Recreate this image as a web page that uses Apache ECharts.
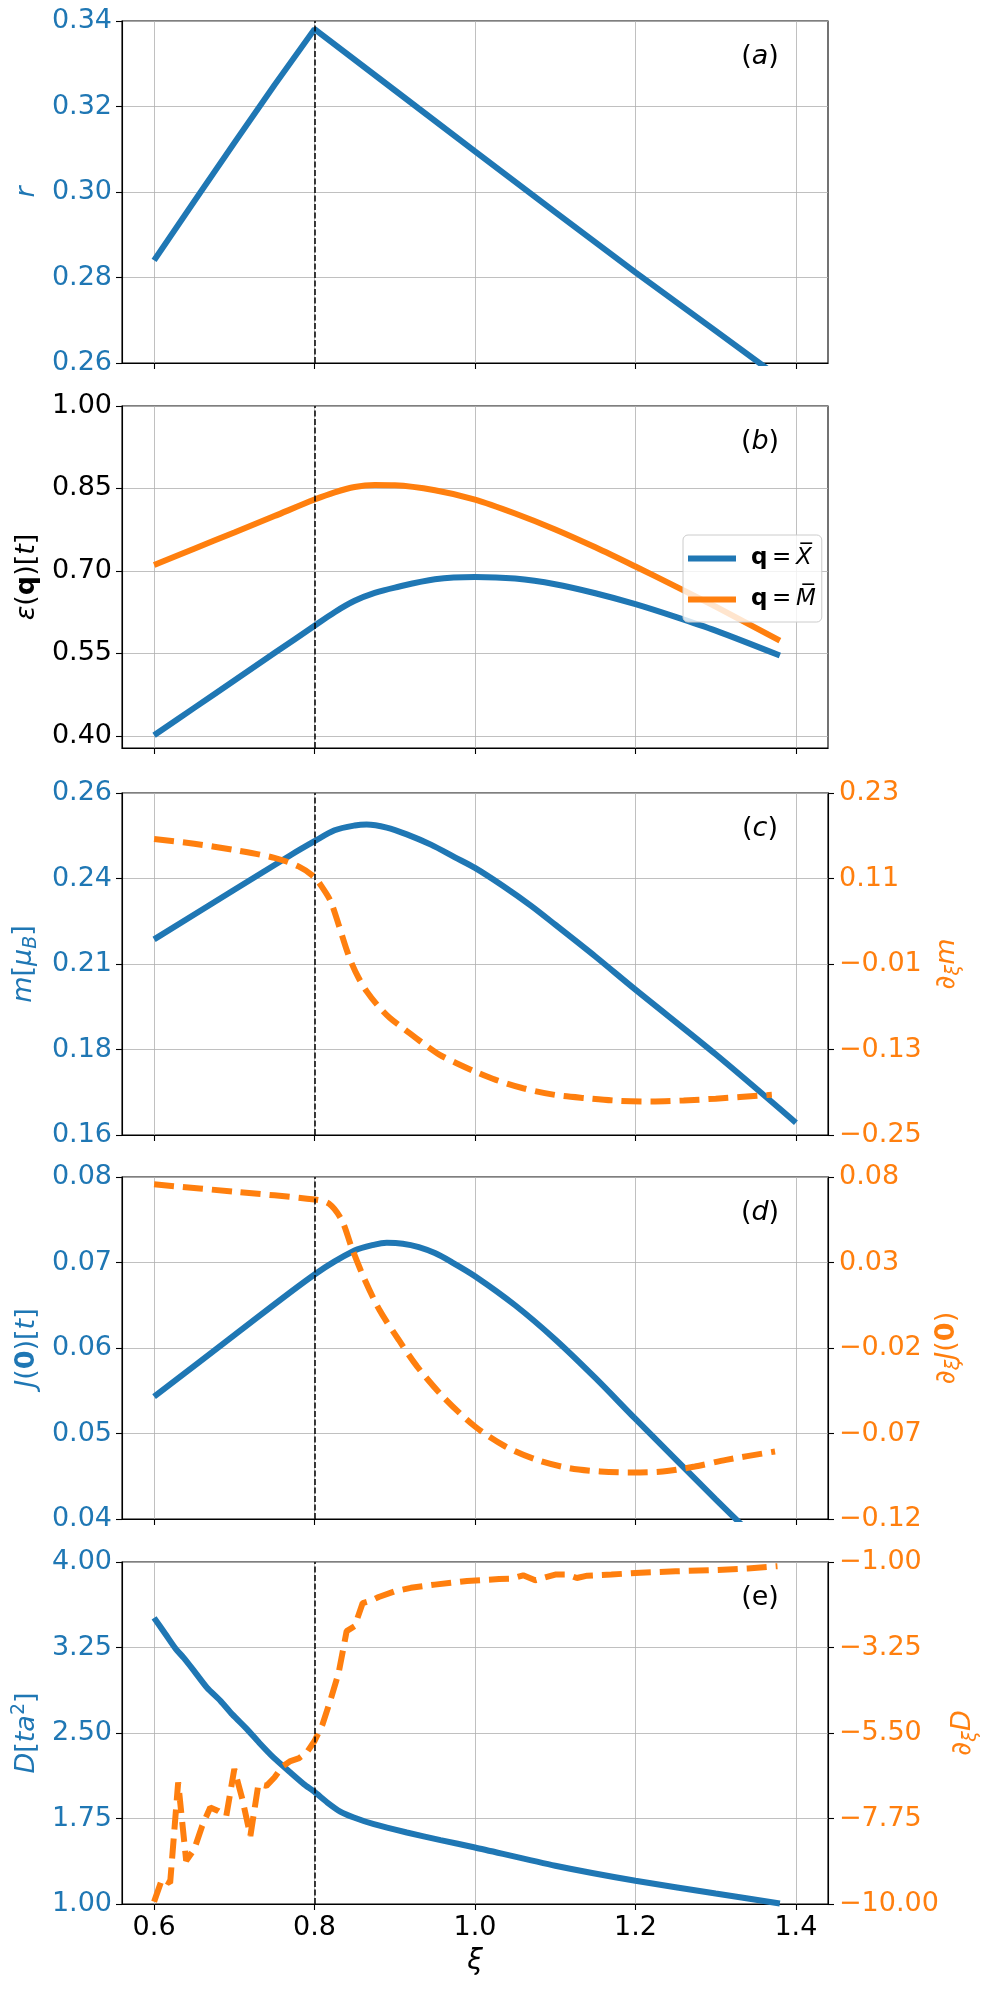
<!DOCTYPE html>
<html lang="en">
<head>
    <meta charset="UTF-8">
    <title>xi panels</title>
    <style>
        * {
            margin: 0;
            padding: 0;
        }

        body {
            background: #fff;
        }

        .main {
            width: 990px;
            height: 1990px;
        }
    </style>
</head>
<body>
<div id="main" class="main"></div>
<script src="https://cdn.jsdelivr.net/npm/echarts@6.0.0/dist/echarts.min.js"></script>
<script>
    // ---- data ----
    var xTicks = [0.6, 0.8, 1.0, 1.2, 1.4];
    var xTickLabels = ['0.6', '0.8', '1.0', '1.2', '1.4'];

    // (a) r
    var xiA = [0.6, 0.65, 0.7, 0.75, 0.8, 0.9, 1.0, 1.1, 1.2, 1.3, 1.38];
    var rA = [0.2840, 0.2978, 0.3115, 0.3250, 0.3381, 0.3238, 0.3095, 0.2953, 0.2812, 0.2675, 0.2565];
    var aTicks = [0.26, 0.28, 0.30, 0.32, 0.34];
    var aTickLabels = ['0.26', '0.28', '0.30', '0.32', '0.34'];

    // (b) eps(q)
    var xiB = [0.6, 0.65, 0.7, 0.75, 0.8, 0.825, 0.85, 0.875, 0.9, 0.95, 1.0, 1.05, 1.1, 1.15, 1.2, 1.25, 1.3, 1.38];
    var epsX = [0.4012, 0.4510, 0.5008, 0.5506, 0.6004, 0.6250, 0.6457, 0.6600, 0.6698, 0.6849, 0.6891, 0.6861, 0.6759, 0.6595, 0.6397, 0.6165, 0.5914, 0.5461];
    var epsM = [0.7109, 0.7405, 0.7700, 0.7998, 0.8298, 0.8430, 0.8527, 0.8562, 0.8557, 0.8467, 0.8298, 0.8045, 0.7755, 0.7430, 0.7080, 0.6720, 0.6350, 0.5733];
    var bTicks = [0.40, 0.55, 0.70, 0.85, 1.00];
    var bTickLabels = ['0.40', '0.55', '0.70', '0.85', '1.00'];

    // (c) m and d_xi m
    var xiC = [0.6, 0.7, 0.77, 0.8, 0.825, 0.85, 0.865, 0.89, 0.915, 0.945, 0.975, 1.0, 1.035, 1.07, 1.1, 1.15, 1.2, 1.3, 1.4];
    var mC = [0.2172, 0.2317, 0.2418, 0.2459, 0.2491, 0.2505, 0.2508, 0.2499, 0.2479, 0.2449, 0.2412, 0.2381, 0.2328, 0.2270, 0.2215, 0.2122, 0.2025, 0.1836, 0.1636];
    var xiCd = [0.6, 0.65, 0.7, 0.75, 0.78, 0.8, 0.81, 0.82, 0.83, 0.84, 0.847, 0.855, 0.865, 0.878, 0.894, 0.913, 0.935, 0.956, 0.977, 1.0, 1.026, 1.06, 1.1, 1.14, 1.18, 1.22, 1.26, 1.3, 1.37];
    var dmC = [0.1653, 0.1588, 0.1500, 0.1390, 0.1270, 0.1119, 0.0969, 0.0781, 0.0453, 0.0100, -0.0109, -0.0297, -0.0484, -0.0672, -0.0859, -0.1023, -0.1211, -0.1375, -0.1492, -0.1609, -0.1727, -0.1844, -0.1938, -0.1984, -0.2020, -0.2030, -0.2015, -0.1990, -0.1935];
    var cTicks = [0.16, 0.185, 0.21, 0.235, 0.26];
    var cTickLabels = ['0.16', '0.18', '0.21', '0.24', '0.26'];
    var cTicksR = [-0.25, -0.13, -0.01, 0.11, 0.23];
    var cTickLabelsR = ['\u22120.25', '\u22120.13', '\u22120.01', '0.11', '0.23'];

    // (d) J(0) and d_xi J(0)
    var xiD = [0.6, 0.7, 0.8, 0.85, 0.875, 0.89, 0.91, 0.93, 0.95, 0.97, 1.0, 1.05, 1.1, 1.15, 1.2, 1.3, 1.38];
    var JD = [0.0543, 0.0615, 0.0686, 0.0714, 0.0721, 0.0723, 0.0722, 0.0718, 0.0711, 0.0701, 0.0684, 0.0650, 0.0610, 0.0565, 0.0517, 0.0423, 0.0350];
    var xiDd = [0.6, 0.7, 0.8, 0.818, 0.834, 0.846, 0.861, 0.881, 0.905, 0.928, 0.96, 1.0, 1.038, 1.077, 1.117, 1.156, 1.195, 1.234, 1.274, 1.313, 1.374];
    var dJD = [0.0757, 0.0714, 0.0668, 0.0644, 0.0547, 0.0391, 0.0216, 0.0022, -0.0153, -0.0309, -0.0484, -0.0659, -0.0776, -0.0854, -0.0902, -0.0922, -0.0928, -0.0922, -0.0893, -0.0854, -0.0805];
    var dTicks = [0.04, 0.05, 0.06, 0.07, 0.08];
    var dTickLabels = ['0.04', '0.05', '0.06', '0.07', '0.08'];
    var dTicksR = [-0.12, -0.07, -0.02, 0.03, 0.08];
    var dTickLabelsR = ['\u22120.12', '\u22120.07', '\u22120.02', '0.03', '0.08'];

    // (e) D and d_xi D
    var xiE = [0.6, 0.6145, 0.627, 0.637, 0.65, 0.666, 0.683, 0.6975, 0.716, 0.731, 0.749, 0.77, 0.787, 0.8, 0.816, 0.832, 0.849, 0.874, 0.915, 0.957, 1.0, 1.1, 1.2, 1.3, 1.38];
    var DE = [3.510, 3.364, 3.238, 3.159, 3.043, 2.897, 2.780, 2.663, 2.532, 2.415, 2.284, 2.153, 2.050, 1.983, 1.890, 1.811, 1.759, 1.700, 1.627, 1.560, 1.496, 1.336, 1.204, 1.092, 1.005];
    var xiEd = [0.60, 0.61, 0.62, 0.63, 0.64, 0.65, 0.66, 0.67, 0.68, 0.69, 0.70, 0.71, 0.72, 0.73, 0.74, 0.75, 0.76, 0.77, 0.78, 0.79, 0.80, 0.81, 0.82, 0.83, 0.84, 0.85, 0.86, 0.87, 0.88, 0.90, 0.92, 0.95, 0.99, 1.03, 1.045, 1.06, 1.075, 1.10, 1.115, 1.127, 1.14, 1.17, 1.20, 1.25, 1.30, 1.34, 1.377];
    var dDE = [-9.94, -9.34, -9.45, -6.80, -8.86, -8.56, -7.94, -7.46, -7.55, -7.68, -6.45, -7.24, -8.21, -6.85, -6.89, -6.67, -6.38, -6.24, -6.17, -6.02, -5.71, -5.27, -4.62, -3.92, -2.82, -2.69, -2.08, -2.02, -1.92, -1.77, -1.68, -1.595, -1.50, -1.45, -1.44, -1.35, -1.48, -1.33, -1.33, -1.42, -1.36, -1.33, -1.29, -1.244, -1.21, -1.17, -1.11];
    var eTicks = [1.00, 1.75, 2.50, 3.25, 4.00];
    var eTickLabels = ['1.00', '1.75', '2.50', '3.25', '4.00'];
    var eTicksR = [-10.00, -7.75, -5.50, -3.25, -1.00];
    var eTickLabelsR = ['\u221210.00', '\u22127.75', '\u22125.50', '\u22123.25', '\u22121.00'];

    var panelTags = ['a', 'b', 'c', 'd', 'e'];
    var xiCritical = 0.8;

    // ---- layout / style ----
    var BLUE = '#1f77b4', ORANGE = '#ff7f0e', GRIDC = '#b0b0b0';
    var FONT = 'DejaVu Sans';
    var FS = 27;
    var LW = 6;
    var tops = [21, 406, 793, 1177, 1562];
    var H = 342;

    function pairs(xs, ys) {
        return xs.map(function (x, k) {
            return [x, ys[k]];
        });
    }

    function tickFmt(vals, labels) {
        return function (v) {
            var k = 0;
            for (var j = 1; j < vals.length; j++) {
                if (Math.abs(vals[j] - v) < Math.abs(vals[k] - v)) k = j;
            }
            return labels[k];
        };
    }

    function richSet(color) {
        return {
            n: {fontFamily: FONT, fontSize: FS, color: color, lineHeight: 34},
            i: {fontFamily: FONT, fontSize: FS, fontStyle: 'italic', color: color, lineHeight: 34},
            b: {fontFamily: FONT, fontSize: FS, fontWeight: 'bold', color: color, lineHeight: 34},
            s: {fontFamily: FONT, fontSize: 19, fontStyle: 'italic', color: color, lineHeight: 19, verticalAlign: 'bottom'},
            p: {fontFamily: FONT, fontSize: 19, color: color, lineHeight: 19, verticalAlign: 'top'}
        };
    }

    var grids = tops.map(function (t) {
        return {left: 122, width: 706, top: t, height: H, show: true, borderColor: '#000', borderWidth: 1.1};
    });

    var xAxes = tops.map(function (t, i) {
        var last = i === tops.length - 1;
        return {
            type: 'value', gridIndex: i, min: 0.56, max: 1.44,
            axisLine: {show: true, onZero: false, lineStyle: {color: '#000', width: 1.1}},
            axisTick: {show: true, inside: false, length: 6, customValues: xTicks, lineStyle: {color: '#000', width: 1.1}},
            axisLabel: {
                show: last, customValues: xTicks, formatter: tickFmt(xTicks, xTickLabels),
                color: '#000', fontFamily: FONT, fontSize: FS, margin: 10
            },
            splitLine: {show: true, lineStyle: {color: GRIDC, width: 0.8}},
            name: last ? '\u03be' : '', nameLocation: 'middle', nameGap: 44,
            nameTextStyle: {color: '#000', fontFamily: FONT, fontSize: 28, fontStyle: 'italic'}
        };
    });

    function leftAxis(i, min, max, ticks, labels, name, color) {
        return {
            type: 'value', gridIndex: i, position: 'left', min: min, max: max,
            axisLine: {show: true, lineStyle: {color: '#000', width: 1.1}},
            axisTick: {show: true, inside: false, length: 6, customValues: ticks, lineStyle: {color: '#000', width: 1.1}},
            axisLabel: {customValues: ticks, formatter: tickFmt(ticks, labels), color: color, fontFamily: FONT, fontSize: FS, margin: 10},
            splitLine: {show: true, lineStyle: {color: GRIDC, width: 0.8}},
            name: name, nameLocation: 'middle', nameRotate: 90, nameGap: 78,
            nameTextStyle: {color: color, fontFamily: FONT, fontSize: FS, rich: richSet(color)}
        };
    }

    function rightAxis(i, min, max, ticks, labels, name, gap) {
        return {
            type: 'value', gridIndex: i, position: 'right', min: min, max: max,
            axisLine: {show: true, lineStyle: {color: '#000', width: 1.1}},
            axisTick: {show: true, inside: false, length: 6, customValues: ticks, lineStyle: {color: '#000', width: 1.1}},
            axisLabel: {customValues: ticks, formatter: tickFmt(ticks, labels), color: ORANGE, fontFamily: FONT, fontSize: FS, margin: 11},
            splitLine: {show: false},
            name: name, nameLocation: 'middle', nameRotate: 90, nameGap: gap,
            nameTextStyle: {color: ORANGE, fontFamily: FONT, fontSize: FS, rich: richSet(ORANGE)}
        };
    }

    var yAxes = [
        leftAxis(0, 0.26, 0.34, aTicks, aTickLabels, '{i|r}', BLUE),
        leftAxis(1, 0.378, 1.0, bTicks, bTickLabels, '{i|\u03b5}{n|(}{b|q}{n|)[}{i|t}{n|]}', '#000'),
        leftAxis(2, 0.16, 0.26, cTicks, cTickLabels, '{i|m}{n|[}{i|\u03bc}{s|B}{n|]}', BLUE),
        leftAxis(3, 0.04, 0.08, dTicks, dTickLabels, '{i|J}{n|(}{b|0}{n|)[}{i|t}{n|]}', BLUE),
        leftAxis(4, 1.0, 4.0, eTicks, eTickLabels, '{i|D}{n|[}{i|ta}{p|2}{n|]}', BLUE),
        rightAxis(2, -0.25, 0.23, cTicksR, cTickLabelsR, '{i|\u2202}{s|\u03be}{i|m}', 102),
        rightAxis(3, -0.12, 0.08, dTicksR, dTickLabelsR, '{i|\u2202}{s|\u03be}{i|J}{n|(}{b|0}{n|)}', 102),
        rightAxis(4, -10.0, -1.0, eTicksR, eTickLabelsR, '{i|\u2202}{s|\u03be}{i|D}', 116)
    ];

    var vline = {
        silent: true, symbol: ['none', 'none'], label: {show: false},
        lineStyle: {color: '#000', type: [6, 2.5], width: 1.5},
        data: [{xAxis: xiCritical}]
    };

    function solid(name, color, xi, yi, xs, ys, mark, smooth) {
        var s = {
            type: 'line', name: name, xAxisIndex: xi, yAxisIndex: yi, data: pairs(xs, ys),
            showSymbol: false, symbol: 'none', color: color, clip: true, smooth: smooth || false,
            lineStyle: {color: color, width: LW}
        };
        if (mark) s.markLine = vline;
        return s;
    }

    function dashed(color, xi, yi, xs, ys, smooth) {
        return {
            type: 'line', xAxisIndex: xi, yAxisIndex: yi, data: pairs(xs, ys),
            showSymbol: false, symbol: 'none', color: color, clip: true, smooth: smooth || false,
            lineStyle: {color: color, width: LW, type: [20, 9], cap: 'butt'}
        };
    }

    var series = [
        solid('r', BLUE, 0, 0, xiA, rA, true, false),
        solid('X', BLUE, 1, 1, xiB, epsX, true, 0.3),
        solid('M', ORANGE, 1, 1, xiB, epsM, false, 0.3),
        solid('m', BLUE, 2, 2, xiC, mC, true, 0.3),
        dashed(ORANGE, 2, 5, xiCd, dmC, 0.3),
        solid('J', BLUE, 3, 3, xiD, JD, true, 0.3),
        dashed(ORANGE, 3, 6, xiDd, dJD, 0.3),
        solid('D', BLUE, 4, 4, xiE, DE, true, 0.2),
        dashed(ORANGE, 4, 7, xiEd, dDE, false)
    ];

    var tagText = panelTags.map(function (tag, i) {
        var inner = i === panelTags.length - 1 ? '{n|' + tag + '}' : '{i|' + tag + '}';
        return {
            type: 'text', x: 760, y: tops[i] + 36, z: 10,
            style: {
                text: '{n|(}' + inner + '{n|)}', align: 'center', verticalAlign: 'middle',
                rich: {
                    n: {fontFamily: FONT, fontSize: 27, fill: '#000', color: '#000'},
                    i: {fontFamily: FONT, fontSize: 27, fontStyle: 'italic', fill: '#000', color: '#000'}
                }
            }
        };
    });

    var myChart = echarts.init(document.getElementById('main'), null, {renderer: 'canvas'});
    myChart.setOption({
        animation: false,
        backgroundColor: '#fff',
        grid: grids,
        xAxis: xAxes,
        yAxis: yAxes,
        legend: {
            data: ['X', 'M'], orient: 'vertical', left: 683, top: 535,
            icon: 'rect', itemWidth: 48, itemHeight: 6, itemGap: 18,
            padding: [12, 6, 11, 5],
            backgroundColor: 'rgba(255,255,255,0.8)', borderColor: '#cccccc', borderWidth: 1, borderRadius: 5,
            formatter: function (name) {
                return '{b|q}{n|\u2009=\u2009}{i|' + name + '\u0305}';
            },
            textStyle: {
                color: '#000', fontFamily: FONT, fontSize: 23, padding: [0, 0, 0, 10],
                rich: {
                    n: {fontFamily: FONT, fontSize: 23, color: '#000'},
                    b: {fontFamily: FONT, fontSize: 23, fontWeight: 'bold', color: '#000'},
                    i: {fontFamily: FONT, fontSize: 23, fontStyle: 'italic', color: '#000'}
                }
            }
        },
        graphic: tagText,
        series: series
    });
</script>
</body>
</html>
